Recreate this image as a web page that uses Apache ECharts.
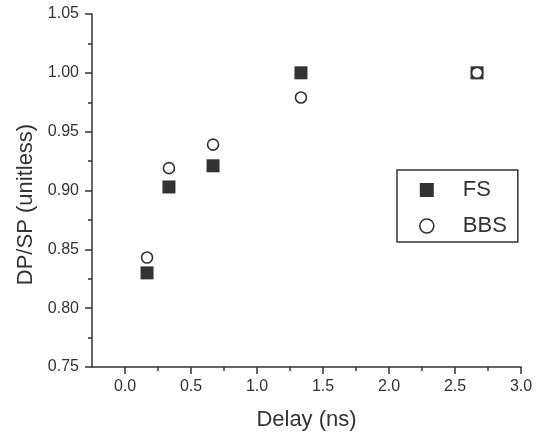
<!DOCTYPE html>
<html>
<head>
<meta charset="utf-8">
<script src="https://cdn.jsdelivr.net/npm/echarts@6/dist/echarts.min.js"></script>
<style>
html,body{margin:0;padding:0;background:#fff;}
#chart{width:540px;height:436px;}
</style>
</head>
<body>
<div id="chart"></div>
<script>
// Data
const delay = [0.167, 0.333, 0.667, 1.333, 2.667];
const fsValues = [0.830, 0.903, 0.921, 1.000, 1.000];
const bbsValues = [0.843, 0.919, 0.939, 0.979, 1.000];
const seriesNames = ['FS', 'BBS'];
const xMajorTicks = [0.0, 0.5, 1.0, 1.5, 2.0, 2.5, 3.0];
const xMinorTicks = [0.25, 0.75, 1.25, 1.75, 2.25, 2.75];
const yTicks = [0.75, 0.80, 0.85, 0.90, 0.95, 1.00, 1.05];

const ink = '#333';
const font = 'Liberation Sans, Arial, Helvetica, sans-serif';

const chart = echarts.init(document.getElementById('chart'), null, {renderer: 'canvas'});
chart.setOption({
  backgroundColor: '#fff',
  animation: false,
  grid: {left: 92, right: 19, top: 14, bottom: 69},
  legend: {
    orient: 'vertical',
    left: 397, top: 170,
    padding: [9, 11, 5, 22],
    borderColor: ink, borderWidth: 1.5,
    itemWidth: 14, itemHeight: 14, itemGap: 14,
    textStyle: {fontFamily: font, fontSize: 22, color: ink, padding: [0, 0, 0, 24]},
    data: [{name: seriesNames[0], icon: 'rect'}, {name: seriesNames[1], icon: 'circle', itemStyle: {borderWidth: 1.6}}]
  },
  xAxis: [{
    type: 'value', min: -0.25, max: 3.0,
    name: 'Delay (ns)', nameLocation: 'middle', nameGap: 42,
    nameTextStyle: {fontFamily: font, fontSize: 22, color: ink},
    axisLine: {show: true, onZero: false, lineStyle: {color: ink, width: 1.5}},
    axisTick: {show: true, inside: false, length: 7, customValues: xMajorTicks, lineStyle: {color: ink, width: 1.5}},
    axisLabel: {customValues: xMajorTicks, margin: 12, fontFamily: font, fontSize: 16, color: ink,
      formatter: v => Number(v).toFixed(1)},
    splitLine: {show: false}
  }, {
    type: 'value', min: -0.25, max: 3.0, position: 'bottom',
    axisLine: {show: false},
    axisTick: {show: true, length: 4, customValues: xMinorTicks, lineStyle: {color: ink, width: 1.5}},
    axisLabel: {show: false},
    splitLine: {show: false}
  }],
  yAxis: {
    type: 'value', min: yTicks[0], max: yTicks[yTicks.length - 1], interval: 0.05,
    name: 'DP/SP (unitless)', nameLocation: 'middle', nameGap: 54,
    nameTextStyle: {fontFamily: font, fontSize: 22, color: ink, padding: [0, 28, 0, 0]},
    axisLine: {show: true, onZero: false, lineStyle: {color: ink, width: 1.5}},
    axisTick: {show: true, length: 7, lineStyle: {color: ink, width: 1.5}},
    minorTick: {show: true, splitNumber: 2, length: 4, lineStyle: {color: ink, width: 1.5}},
    axisLabel: {margin: 13, fontFamily: font, fontSize: 16, color: ink,
      formatter: v => Number(v).toFixed(2)},
    splitLine: {show: false},
    minorSplitLine: {show: false}
  },
  series: [{
    name: seriesNames[0], type: 'scatter', symbol: 'rect', symbolSize: 13,
    itemStyle: {color: ink, opacity: 1},
    data: delay.map((d, i) => [d, fsValues[i]])
  }, {
    name: seriesNames[1], type: 'scatter', symbol: 'circle', symbolSize: 11,
    itemStyle: {color: '#fff', borderColor: ink, borderWidth: 1.6, opacity: 1},
    data: delay.map((d, i) => [d, bbsValues[i]])
  }]
});
</script>
</body>
</html>
